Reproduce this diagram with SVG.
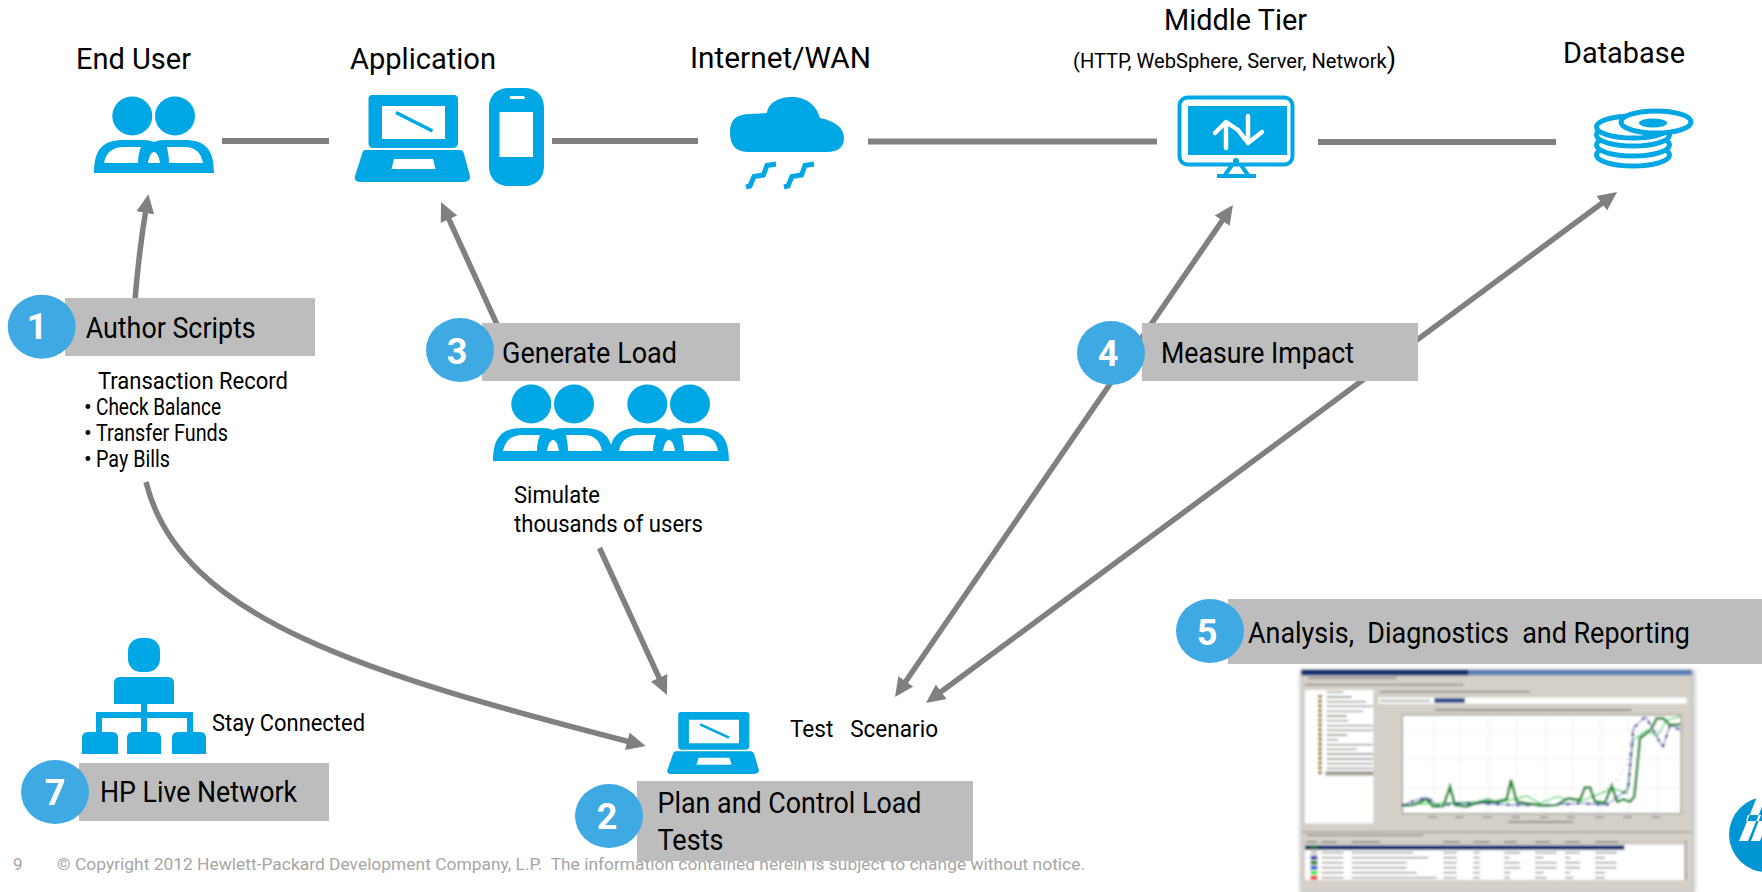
<svg xmlns="http://www.w3.org/2000/svg" width="1762" height="892" viewBox="0 0 1762 892">
<style>
text{font-family:Roboto,"Liberation Sans",sans-serif;fill:#000;white-space:pre}
.h{font-size:29px}
.b{font-size:24px}
.s{font-size:23px}
.n{font-size:36px;font-weight:700;fill:#fff;text-anchor:middle}
.f{font-size:17px;fill:#a6a6a6}
.box{fill:#bdbdbd}
.badge{fill:#3fa9e3}
.ico{fill:#00a7e5}
.link{stroke:#808080;stroke-width:6;fill:none}
.arr{stroke:#808080;stroke-width:5.5;fill:none;marker-end:url(#ah)}
.arr2{stroke:#808080;stroke-width:5.5;fill:none;marker-end:url(#ah);marker-start:url(#ah)}
.smudge{fill:none;stroke:#7d7d78;stroke-width:4}
</style>
<defs>
<marker id="ah" markerUnits="userSpaceOnUse" markerWidth="24" markerHeight="24" viewBox="0 0 24 24" refX="9" refY="12" orient="auto-start-reverse">
<path d="M0 3 L19 12 L0 21 Z" fill="#808080"/>
</marker>
<g id="people">
<ellipse cx="38.300" cy="-1" rx="20" ry="19.500" fill="#00a7e5"/>
<ellipse cx="81" cy="-1" rx="20" ry="19.500" fill="#00a7e5"/>
<path fill="#00a7e5" fill-rule="evenodd" d="M0 56 C0 32 9 23 30 23 H50 Q56 23 60 25 Q64 23 70 23 H90 C111 23 120 32 120 56 Z M10 46 H44 C44 40 45 35 47 30 H30 C18 30 12 36 10 46 Z M54 46 H66 C65 40 63 35 60 35 C57 35 55 40 54 46 Z M75 46 H109 C107 36 102 30 90 30 H73 C74 35 75 40 75 46 Z"/>
</g>
<g id="laptop">
<path fill="#00a7e5" fill-rule="evenodd" d="M372 95 H454 Q458 95 458 99 V143 Q458 147 454 148 H372 Q368.500 147 368.500 143 V99 Q368.500 95 372 95 Z M382 106 V139 H445 V106 Z"/>
<path fill="#00a7e5" fill-rule="evenodd" d="M365 150 H460 Q463 150 464 154 L470 176 Q471 182 462 182 H362 Q353 182 355 176 L362 154 Q363 150 365 150 Z M394 159 L391.500 169 H435.500 L433 159 Z"/>
<path d="M396 112.500 L432.500 131" stroke="#00a7e5" stroke-width="3.500"/>
</g>
<filter id="bl" x="-5%" y="-5%" width="110%" height="110%"><feGaussianBlur stdDeviation="2.800"/></filter>
<filter id="sh" x="-5%" y="-5%" width="110%" height="110%"><feGaussianBlur stdDeviation="7"/></filter>
</defs>
<rect width="1762" height="892" fill="#fff"/>

<g id="footer">
<text class="f" x="13" y="870">9</text>
<text class="f" x="57" y="870" textLength="1028" lengthAdjust="spacingAndGlyphs">© Copyright 2012 Hewlett-Packard Development Company, L.P.  The information contained herein is subject to change without notice.</text>
</g>

<g id="connectors">
<path class="link" d="M222 141 H329"/>
<path class="link" d="M552 141 H698"/>
<path class="link" d="M868 141.500 H1157"/>
<path class="link" d="M1318 142 H1556"/>
<path class="arr" d="M135 300 Q139 250 146.800 204"/>
<path class="arr" d="M522 379 L445.200 211.100"/>
<path class="arr" d="M599.500 548 L662.800 685.900"/>
<path class="arr2" d="M1227.300 213.200 L900.700 688.800"/>
<path class="arr2" d="M1609 198 L934 697"/>
<path class="arr" d="M146 482 C180 620 370 675 636 743.500"/>
</g>

<g id="end-user"><text class="h" x="76" y="69" textLength="115" lengthAdjust="spacingAndGlyphs">End User</text><use href="#people" transform="translate(94 117)"/></g>

<g id="application"><text class="h" x="350" y="69" textLength="146" lengthAdjust="spacingAndGlyphs">Application</text>
<use href="#laptop"/>
<path fill="#00a7e5" fill-rule="evenodd" d="M509 88 H524 C537 88 544 96 544 108 V166 C544 178 537 186 524 186 H509 C496 186 489 178 489 166 V108 C489 96 496 88 509 88 Z M499.500 112 V157 H533 V112 Z M510.500 96 Q509 97.500 510.500 99 H524 Q525.500 97.500 524 96 Z"/>
</g>

<g id="internet-wan"><text class="h" x="690" y="68" textLength="181" lengthAdjust="spacingAndGlyphs">Internet/WAN</text>
<path class="ico" d="M749 152 C736 152 730 146 730 132 C730 120 736 114 750 114 L767 113 C768 103 779 97 792 97 C808 97 817 107 820 118 C835 121 844 128 844 138 C844 147 838 152 827 152 Z"/>
<path d="M776 164 L767 165.500 L763.500 175 L754 176.500 L750 186 L746 187 M814 164 L805 165.500 L801.500 175 L792 176.500 L788 186 L784 187" fill="none" stroke="#00a7e5" stroke-width="5"/>
</g>

<g id="middle-tier"><text class="h" x="1164" y="30" textLength="143" lengthAdjust="spacingAndGlyphs">Middle Tier</text>
<text x="1073" y="68" font-size="21" textLength="323" lengthAdjust="spacingAndGlyphs">(HTTP, WebSphere, Server, Network<tspan font-size="28">)</tspan></text>
<rect x="1179.500" y="97.500" width="113" height="67" rx="8" fill="none" stroke="#00a7e5" stroke-width="4"/>
<rect class="ico" x="1188" y="106" width="99" height="49"/>
<path d="M1226 148 V122 M1215 133 L1226 122 L1238 130 M1248 116 V143 M1238 130 L1248 143 L1262 132" fill="none" stroke="#fff" stroke-width="4.500" stroke-linecap="round" stroke-linejoin="round"/>
<circle class="ico" cx="1236" cy="161" r="3"/>
<path d="M1232 165 L1225 175 M1241 165 L1248 175 M1217 176 H1256" fill="none" stroke="#00a7e5" stroke-width="4"/>
</g>

<g id="database"><text class="h" x="1563" y="63" textLength="122" lengthAdjust="spacingAndGlyphs">Database</text>
<g fill="#fff" stroke="#00a7e5" stroke-width="5">
<ellipse cx="1633" cy="155" rx="36.500" ry="11"/>
<ellipse cx="1633" cy="145" rx="36.500" ry="11"/>
<ellipse cx="1633" cy="135" rx="36.500" ry="11"/>
<ellipse cx="1633" cy="127" rx="36.500" ry="11"/>
<ellipse cx="1656" cy="122" rx="35" ry="11"/>
</g>
<ellipse class="ico" cx="1653" cy="123" rx="14" ry="4.500"/>
</g>

<g id="step-1"><rect class="box" x="65" y="298" width="250" height="58"/><ellipse class="badge" cx="41.700" cy="326.700" rx="34" ry="32"/><text class="n" x="37" y="339">1</text>
<text class="h" x="85.700" y="338" textLength="170" lengthAdjust="spacingAndGlyphs">Author Scripts</text>
<text class="b" x="98" y="389" textLength="190" lengthAdjust="spacingAndGlyphs">Transaction Record</text>
<text class="s" x="84" y="415">•</text><text class="s" x="96" y="415" textLength="125" lengthAdjust="spacingAndGlyphs">Check Balance</text>
<text class="s" x="84" y="441">•</text><text class="s" x="96" y="441" textLength="132" lengthAdjust="spacingAndGlyphs">Transfer Funds</text>
<text class="s" x="84" y="467">•</text><text class="s" x="96" y="467" textLength="74" lengthAdjust="spacingAndGlyphs">Pay Bills</text>
</g>

<g id="step-3"><rect class="box" x="482" y="323" width="258" height="58"/><ellipse class="badge" cx="460" cy="350" rx="34" ry="32"/><text class="n" x="457" y="364">3</text>
<text class="h" x="502" y="363" textLength="175" lengthAdjust="spacingAndGlyphs">Generate Load</text>
<use href="#people" transform="translate(493 405)"/><use href="#people" transform="translate(609 405)"/>
<text class="b" x="514" y="503" textLength="86" lengthAdjust="spacingAndGlyphs">Simulate</text>
<text class="b" x="514" y="532" textLength="189" lengthAdjust="spacingAndGlyphs">thousands of users</text>
</g>

<g id="step-4"><rect class="box" x="1142" y="323" width="276" height="58"/><ellipse class="badge" cx="1111" cy="353" rx="34" ry="32"/><text class="n" x="1108" y="366">4</text>
<text class="h" x="1161" y="363" textLength="193" lengthAdjust="spacingAndGlyphs">Measure Impact</text></g>

<g id="step-5"><rect class="box" x="1228" y="599" width="534" height="65"/><ellipse class="badge" cx="1210" cy="631" rx="34" ry="32"/><text class="n" x="1207" y="645">5</text>
<text class="h" x="1248" y="643" textLength="442" lengthAdjust="spacingAndGlyphs">Analysis,  Diagnostics  and Reporting</text></g>

<g id="step-7">
<rect class="ico" x="128" y="638" width="32" height="34" rx="13"/>
<path class="ico" d="M114 704 V683 Q114 677 120 677 H168 Q174 677 174 683 V704 Z"/>
<path d="M144 704 V732 M99 732 V715 H190 V732" fill="none" stroke="#00a7e5" stroke-width="6"/>
<path class="ico" d="M82 754 V738 Q82 732 88 732 H112 Q118 732 118 738 V754 Z M127 754 V738 Q127 732 133 732 H155 Q161 732 161 738 V754 Z M172 754 V738 Q172 732 178 732 H200 Q206 732 206 738 V754 Z"/>
<text class="s" x="212" y="731" textLength="153" lengthAdjust="spacingAndGlyphs">Stay Connected</text>
<rect class="box" x="79" y="763" width="250" height="58"/><ellipse class="badge" cx="55" cy="792" rx="34" ry="32"/><text class="n" x="55" y="805">7</text>
<text class="h" x="100" y="802" textLength="197" lengthAdjust="spacingAndGlyphs">HP Live Network</text></g>

<g id="step-2">
<use href="#laptop" transform="translate(667 712) scale(.795 .713) translate(-354.400 -95)"/>
<text class="s" x="790" y="737" textLength="148" lengthAdjust="spacingAndGlyphs">Test   Scenario</text>
<rect class="box" x="637" y="781" width="336" height="80"/><ellipse class="badge" cx="609" cy="816" rx="34" ry="32"/><text class="n" x="607" y="829">2</text>
<text class="h" x="657.500" y="813" textLength="264" lengthAdjust="spacingAndGlyphs">Plan and Control Load</text>
<text class="h" x="657.500" y="850" textLength="66" lengthAdjust="spacingAndGlyphs">Tests</text></g>

<g id="screenshot" transform="translate(1280 660) scale(.33333)">
<rect x="60" y="28" width="1185" height="672" fill="#8a8a8a" opacity=".5" filter="url(#sh)"/>
<g filter="url(#bl)">
<rect x="65" y="30" width="1170" height="660" fill="#d4d0c8"/>
<rect x="65" y="30" width="1170" height="16" fill="#5f7fb8"/>
<rect x="65" y="30" width="500" height="16" fill="#16306e"/>
<rect x="75" y="90" width="205" height="400" fill="#fff"/>
<rect x="135" y="333" width="145" height="14" fill="#b5b1a8"/>
<path d="M120 104 V346" stroke="#9c7a10" stroke-width="11" stroke-dasharray="10 4.300" fill="none"/>
<path class="smudge" d="M140 97H190M140 111H215M140 125H258M140 139H278M140 154H250M140 168H200M140 182H205M140 197H278M140 211H278M140 225H200M140 239H175M140 254H278M140 268H230M140 282H278M140 297H278M140 311H278M140 325H278M140 340H278"/>
<path class="smudge" d="M85 54H350M75 74H550"/>
<path class="smudge" d="M300 95H750"/>
<rect x="295" y="113" width="925" height="18" fill="#fff"/>
<rect x="463" y="114" width="92" height="15" fill="#2f4f8f"/>
<path class="smudge" d="M300 122H450"/>
<path class="smudge" d="M465 150H1055" stroke-width="7" stroke="#444"/>
<rect x="368" y="165" width="835" height="295" fill="#fff" stroke="#555" stroke-width="2"/>
<path d="M368 213H1203M368 298H1203M368 385H1203M458 165V460M541 165V460M625 165V460M710 165V460M794 165V460M878 165V460M961 165V460M1046 165V460M1130 165V460" stroke="#c6c6c6" stroke-width="1.500" stroke-dasharray="4 4" fill="none"/>
<path d="M970 395L1010 358L1030 335L1047 295L1063 205" stroke="#777" stroke-width="4" stroke-linecap="round" stroke-dasharray="0 18" fill="none"/>
<path d="M368 435L600 425L625 415L650 430L740 408L780 430L830 410L900 425L1000 385L1040 400L1060 240L1100 210L1130 230L1160 180L1200 170" stroke="#48d060" stroke-width="4" fill="none"/>
<path d="M368 435L405 422L440 412L480 440L520 430L600 430L700 435L800 435L900 430L980 435L1030 398L1045 385L1060 205L1085 180L1097 170L1120 210L1148 262L1170 195L1203 210" stroke="#3438c8" stroke-width="3" fill="none"/>
<path d="M368 435L405 422L440 412L480 440L520 430L600 430L700 435L800 435L900 430L980 435L1030 398L1045 385L1060 205L1085 180L1097 170L1120 210L1148 262L1170 195L1203 210" stroke="#14146e" stroke-width="9" stroke-linecap="round" stroke-dasharray="0 30" fill="none"/>
<path d="M368 437L400 435L440 418L460 440L490 438L510 380L525 435L560 440L600 425L650 425L680 418L693 360L710 425L740 430L790 437L830 435L865 415L900 420L915 382L930 382L945 425L975 428L995 378L1012 425L1030 418L1050 425L1063 410L1080 235L1100 220L1115 205L1130 175L1150 175L1170 195L1200 193" stroke="#0f8a2a" stroke-width="8" fill="none"/>
<path class="smudge" d="M445 472H470M525 472H550M610 472H635M695 472H720M780 472H805M860 472H885M945 472H970M1030 472H1055M1115 472H1140M685 486H880"/>
<rect x="65" y="515" width="1170" height="3" fill="#8a8a85"/>
<path class="smudge" d="M80 526H430"/>
<rect x="75" y="538" width="1150" height="122" fill="#fff"/>
<rect x="75" y="538" width="1150" height="16" fill="#cfcbc2"/>
<path class="smudge" d="M80 546H110M125 546H170M215 546H300M490 546H540M580 546H630M672 546H710M765 546H810M855 546H900M945 546H1015"/>
<rect x="75" y="556" width="958" height="14" fill="#16306e"/>
<path d="M92 563H112" stroke="#0f7a28" stroke-width="11" fill="none"/>
<path d="M92 578H112" stroke="#c9c9c9" stroke-width="11" fill="none"/>
<path d="M92 593H112" stroke="#16169a" stroke-width="11" fill="none"/>
<path d="M92 608H112" stroke="#0a7a0a" stroke-width="11" fill="none"/>
<path d="M92 623H112" stroke="#1a3ae0" stroke-width="11" fill="none"/>
<path d="M92 638H112" stroke="#1ce81c" stroke-width="11" fill="none"/>
<path d="M92 653H112" stroke="#ee1010" stroke-width="11" fill="none"/>
<path class="smudge" d="M125 578H190M215 578H400M490 578H530M580 578H600M672 578H720M765 578H830M855 578H900M945 578H1010M125 593H190M215 593H445M490 593H530M580 593H600M672 593H690M765 593H790M855 593H870M945 593H975M125 608H190M215 608H380M490 608H530M580 608H600M672 608H720M765 608H830M855 608H900M945 608H1010M125 623H190M215 623H380M490 623H530M580 623H600M672 623H720M765 623H830M855 623H900M945 623H1010M125 638H190M215 638H410M490 638H530M580 638H600M672 638H690M765 638H790M855 638H870M945 638H975M125 653H190M215 653H470M490 653H530M580 653H600M672 653H690M765 653H800M855 653H880M945 653H975"/>
<rect x="1212" y="540" width="12" height="120" fill="#bdb9b0"/>
</g>
</g>

<g id="hp-logo">
<circle cx="1766.500" cy="834.500" r="37.500" fill="#0096d6"/>
<path fill="#fff" d="M1739 841 H1748 L1766 797 H1757 Z M1748 815 H1766 V821 H1746 Z M1751 841 H1760 L1770 815 H1761 Z"/>
</g>
</svg>
